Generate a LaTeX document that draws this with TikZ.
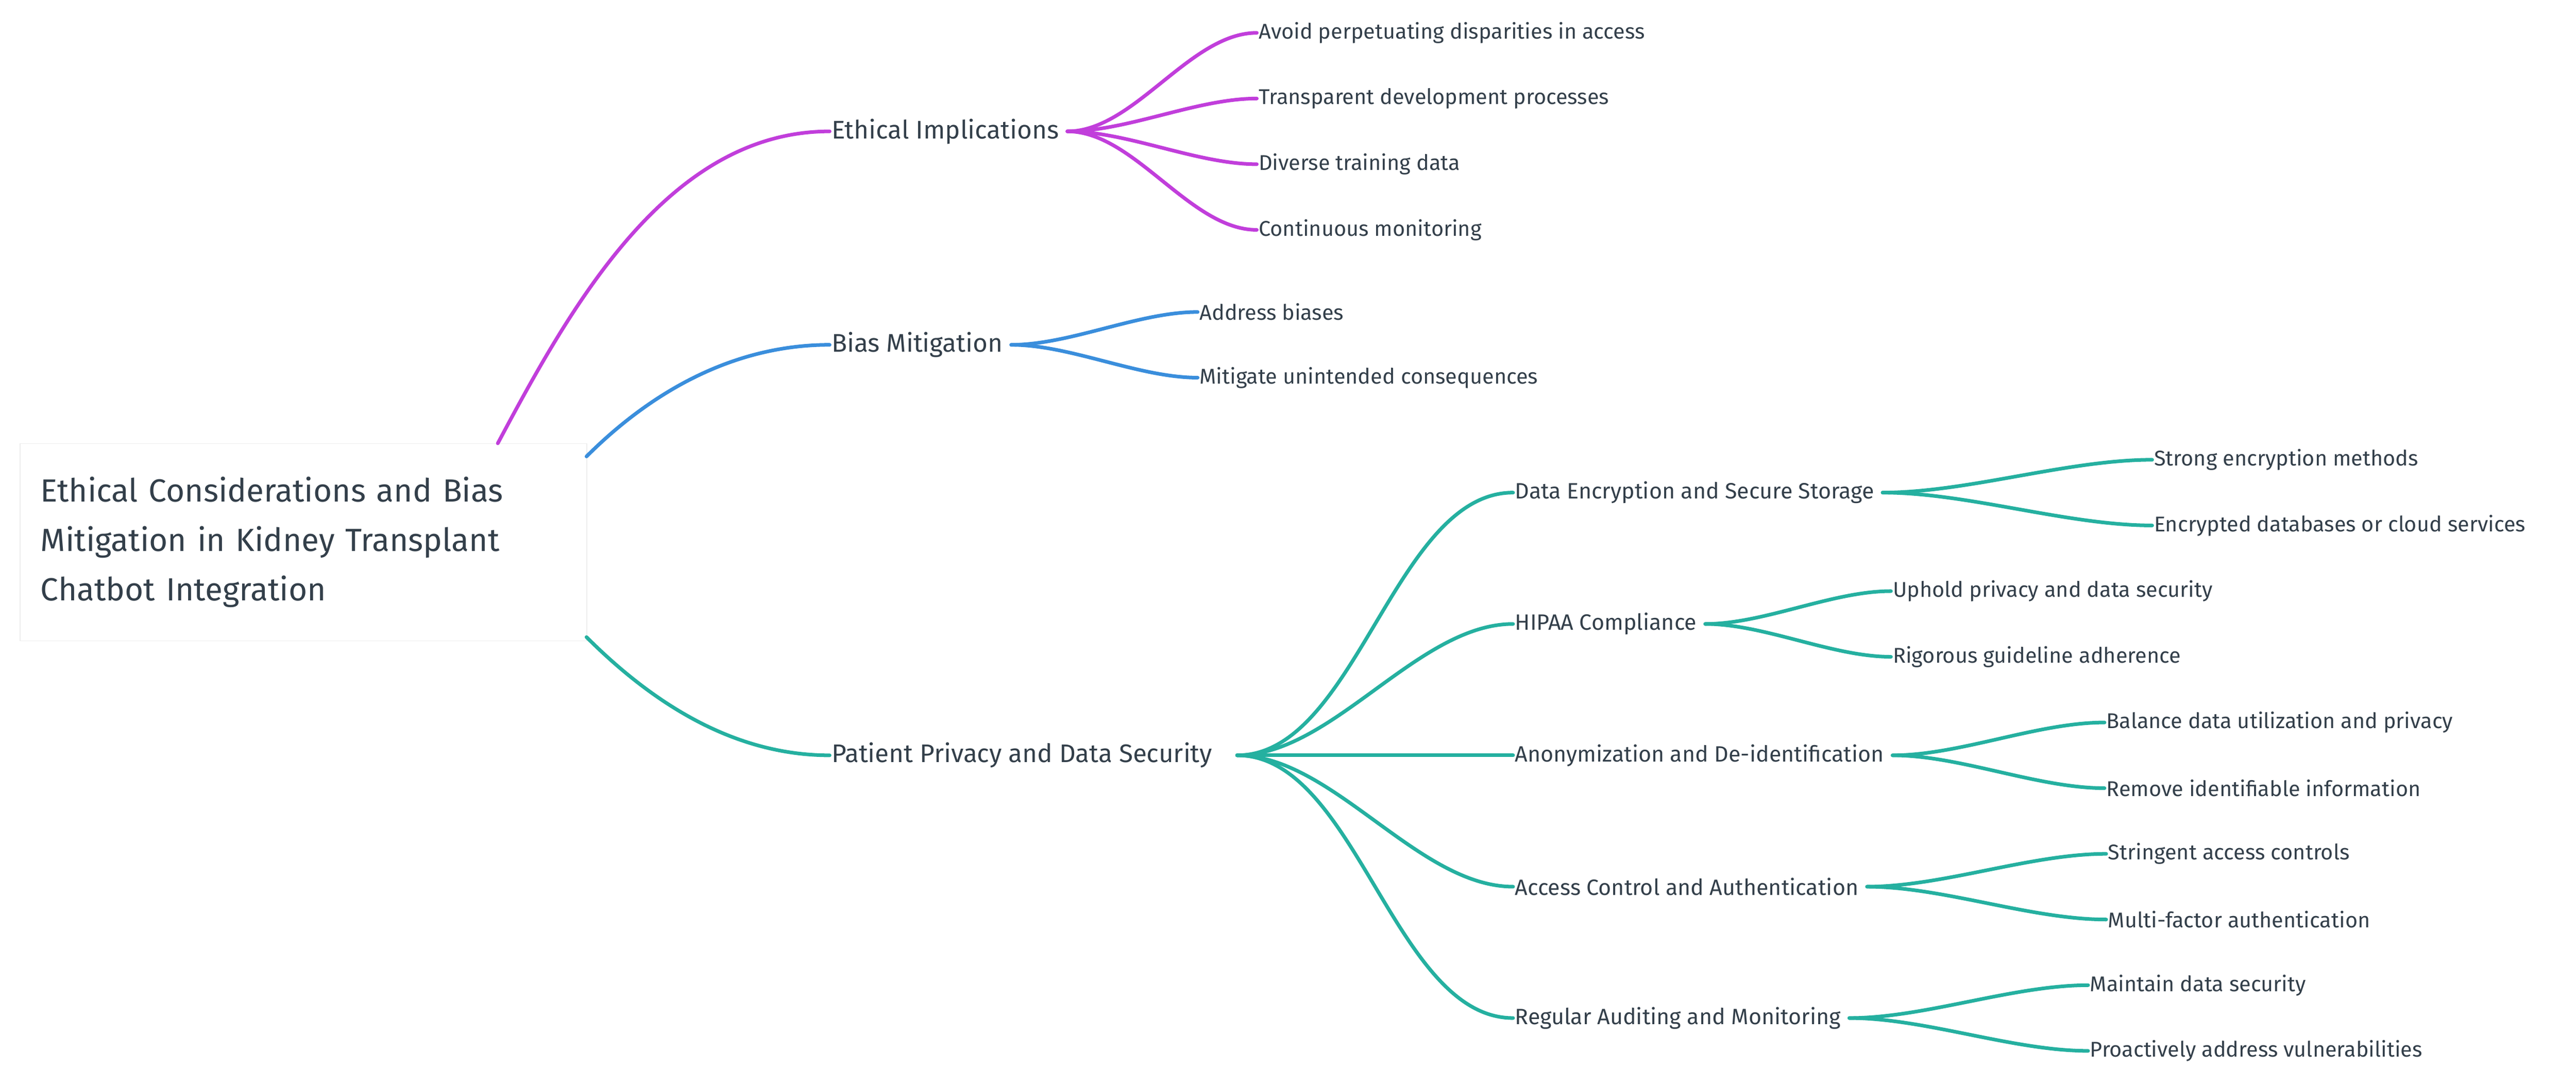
\documentclass[tikz,border=0pt]{standalone}
\usepackage{fontspec}
\setmainfont{Fira Sans}
\usepackage{tikz}
\usetikzlibrary{positioning}
\definecolor{magen}{HTML}{C13EDB}
\definecolor{bluec}{HTML}{3A8EDC}
\definecolor{tealc}{HTML}{25B0A0}
\definecolor{txt}{HTML}{333F4A}
\tikzset{
  leaf/.style={anchor=west,inner sep=1pt,text=txt,font=\fontsize{13}{15}\selectfont},
  mid/.style={anchor=west,inner sep=1pt,text=txt,font=\fontsize{15.5}{18}\selectfont},
  br/.style={line width=2.2pt,line cap=round},
  sw/.style={out=0,in=180,looseness=0.8},
}
\begin{document}
\begin{tikzpicture}[x=1pt,y=-1pt]
  \useasboundingbox (0,0) rectangle (1568,662);
  % Root
  \node[draw=black!7,fill=white,anchor=north west,minimum width=345pt,minimum height=120pt,
        text width=320pt,align=left,text=txt,font=\fontsize{19.5}{30}\selectfont] (root) at (12,270)
    {Ethical Considerations and Bias Mitigation in Kidney Transplant Chatbot Integration};
  \coordinate (rm) at (303,270);
  \coordinate (rb) at (357,278);
  \coordinate (rt) at (357,388);

  % First level
  \node[mid] (ethic) at (505,80) {Ethical Implications};
  \node[mid] (bias) at (505,210) {Bias Mitigation};
  \node[mid] (priv) at (505,460) {Patient Privacy and Data Security};

  \draw[br,magen] (rm) to[out=62,in=180,looseness=0.9] (ethic.west);
  \draw[br,bluec] (rb) to[out=45,in=180,looseness=0.9] (bias.west);
  \draw[br,tealc] (rt) to[out=-45,in=180,looseness=0.9] (priv.west);

  % Ethical implications
  \node[leaf] (e1) at (765,20) {Avoid perpetuating disparities in access};
  \node[leaf] (e2) at (765,60) {Transparent development processes};
  \node[leaf] (e3) at (765,100) {Diverse training data};
  \node[leaf] (e4) at (765,140) {Continuous monitoring};
  \foreach \n in {e1,e2,e3,e4}
    \draw[br,magen] (ethic.east) ++(4,0) to[sw] (\n.west);

  % Bias mitigation
  \node[leaf] (b1) at (729,190) {Address biases};
  \node[leaf] (b2) at (729,230) {Mitigate unintended consequences};
  \foreach \n in {b1,b2}
    \draw[br,bluec] (bias.east) ++(4,0) to[sw] (\n.west);

  % Patient privacy
  \node[mid,font=\fontsize{13.5}{16}\selectfont] (enc) at (921,300) {Data Encryption and Secure Storage};
  \node[mid,font=\fontsize{13.5}{16}\selectfont] (hip) at (921,380) {HIPAA Compliance};
  \node[mid,font=\fontsize{13.5}{16}\selectfont] (ano) at (921,460) {Anonymization and De-identification};
  \node[mid,font=\fontsize{13.5}{16}\selectfont] (acc) at (921,540) {Access Control and Authentication};
  \node[mid,font=\fontsize{13.5}{16}\selectfont] (aud) at (921,620) {Regular Auditing and Monitoring};
  \foreach \n in {enc,hip,ano,acc,aud}
    \draw[br,tealc] (priv.east) ++(14,0) to[sw] (\n.west);

  \node[leaf] (enc1) at (1310,280) {Strong encryption methods};
  \node[leaf] (enc2) at (1310,320) {Encrypted databases or cloud services};
  \node[leaf] (hip1) at (1151,360) {Uphold privacy and data security};
  \node[leaf] (hip2) at (1151,400) {Rigorous guideline adherence};
  \node[leaf] (ano1) at (1281,440) {Balance data utilization and privacy};
  \node[leaf] (ano2) at (1281,480) {Remove identifiable information};
  \node[leaf] (acc1) at (1282,520) {Stringent access controls};
  \node[leaf] (acc2) at (1282,560) {Multi-factor authentication};
  \node[leaf] (aud1) at (1271,600) {Maintain data security};
  \node[leaf] (aud2) at (1271,640) {Proactively address vulnerabilities};

  \foreach \p/\a/\b in {enc/enc1/enc2,hip/hip1/hip2,ano/ano1/ano2,acc/acc1/acc2,aud/aud1/aud2}{
    \draw[br,tealc] (\p.east) ++(4,0) to[sw] (\a.west);
    \draw[br,tealc] (\p.east) ++(4,0) to[sw] (\b.west);
  }
\end{tikzpicture}
\end{document}
